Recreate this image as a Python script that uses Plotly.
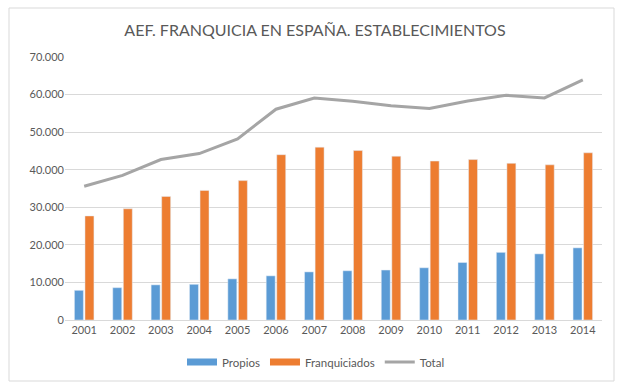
import plotly.graph_objects as go

years = ["2001", "2002", "2003", "2004", "2005", "2006", "2007",
         "2008", "2009", "2010", "2011", "2012", "2013", "2014"]
propios = [7900, 8600, 9350, 9500, 10950, 11750, 12800,
           13100, 13300, 13900, 15300, 18000, 17600, 19200]
franquiciados = [27700, 29600, 32900, 34500, 37100, 44000, 46000,
                 45100, 43600, 42300, 42700, 41700, 41300, 44500]
total = [35600, 38500, 42700, 44300, 48200, 56100, 59100,
         58200, 57000, 56300, 58300, 59800, 59100, 63900]

FONT = "Lato"
TXT = "#595959"
C_PROP, C_FRAN, C_TOT = "#5B9BD5", "#ED7D31", "#A5A5A5"

fig = go.Figure()
fig.add_trace(go.Bar(x=years, y=propios, name="Propios", marker_color=C_PROP,
                     showlegend=False, legendgroup="p"))
fig.add_trace(go.Bar(x=years, y=franquiciados, name="Franquiciados", marker_color=C_FRAN,
                     showlegend=False, legendgroup="f"))
fig.add_trace(go.Scatter(x=years, y=total, name="Total", mode="lines",
                         line=dict(color=C_TOT, width=3), showlegend=False,
                         legendgroup="t"))
# legend entries (wide rectangle swatches like the original)
fig.add_trace(go.Scatter(x=[None], y=[None], name="Propios", mode="lines",
                         line=dict(color=C_PROP, width=7), legendgroup="p"))
fig.add_trace(go.Scatter(x=[None], y=[None], name="Franquiciados", mode="lines",
                         line=dict(color=C_FRAN, width=7), legendgroup="f"))
fig.add_trace(go.Scatter(x=[None], y=[None], name="Total", mode="lines",
                         line=dict(color=C_TOT, width=3), legendgroup="t"))

L, R, T, B = 65, 28, 57, 70
W, H = 630, 390
pw, ph = W - L - R, H - T - B

def px(x):
    return (x - L) / pw

def py(y):
    return (H - B - y) / ph

fig.update_layout(
    width=W, height=H,
    margin=dict(l=L, r=R, t=T, b=B),
    paper_bgcolor="white", plot_bgcolor="white",
    separators=",.",
    font=dict(family=FONT, size=11, color=TXT),
    title=dict(text="AEF. FRANQUICIA EN ESPAÑA. ESTABLECIMIENTOS",
               x=0.5, xanchor="center", y=1 - 30 / H, yanchor="middle",
               font=dict(family=FONT, size=16, color=TXT)),
    barmode="group", bargap=0.45, bargroupgap=0.15,
    legend=dict(orientation="h", x=px(316), xanchor="center",
                y=py(362), yanchor="middle", font=dict(size=11.5, color=TXT),
                itemwidth=30, tracegroupgap=0),
    xaxis=dict(showgrid=False, showline=True, linecolor="#D9D9D9", linewidth=1,
               ticks="", tickfont=dict(size=11, color=TXT)),
    yaxis=dict(range=[0, 70000], dtick=10000, tickformat=",d",
               showgrid=True, gridcolor="#D9D9D9", gridwidth=1,
               zeroline=False, ticks="", ticklen=0,
               tickfont=dict(size=11, color=TXT)),
    shapes=[dict(type="rect", xref="paper", yref="paper",
                 x0=px(9), x1=px(614), y0=py(381), y1=py(8),
                 line=dict(color="#D9D9D9", width=1), layer="below")],
)

fig.write_html("out.html", config={"displayModeBar": False},
               post_script="document.body.style.margin='0';document.body.style.overflow='hidden';")
